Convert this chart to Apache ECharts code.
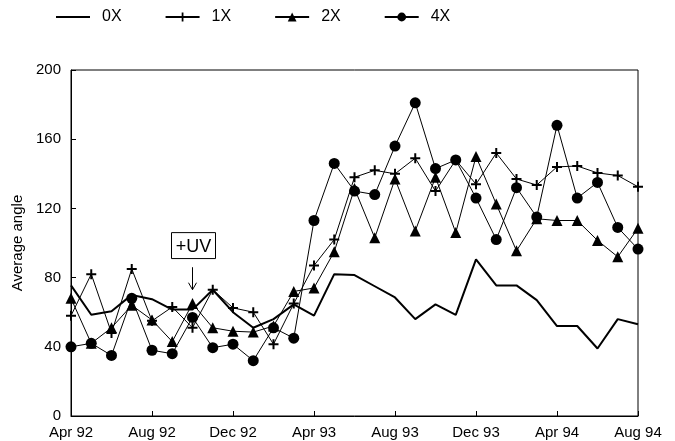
<!DOCTYPE html>
<html>
<head>
<meta charset="utf-8">
<script src="https://cdn.jsdelivr.net/npm/echarts@6/dist/echarts.min.js"></script>
<style>
html,body{margin:0;padding:0;background:#fff;}
#chart{width:675px;height:441px;}
</style>
</head>
<body>
<div id="chart"></div>
<script>
const months = ['Apr 92','May 92','Jun 92','Jul 92','Aug 92','Sep 92','Oct 92','Nov 92','Dec 92',
  'Jan 93','Feb 93','Mar 93','Apr 93','May 93','Jun 93','Jul 93','Aug 93','Sep 93','Oct 93','Nov 93','Dec 93',
  'Jan 94','Feb 94','Mar 94','Apr 94','May 94','Jun 94','Jul 94','Aug 94'];
const seriesNames = ['0X','1X','2X','4X'];
const values0X = [75.5,58.5,60.5,70,67.5,61.5,61.5,73,60,51,56,64.5,58,82,81.5,75,68.5,56,64.5,58.5,90.5,75.5,75.5,67,52,52,39,56,53];
const values1X = [58,82,48,85,55,63,51,73,62.5,60,41.5,65,87,102,138,142,140,149,130,148,134,152,137,133.5,144,144.5,140.5,139,132.5];
const values2X = [68,42,51,64,55.5,43,65,51,49,48.5,52,72,74,95,131.5,103,137,107,138,106,150,122.5,95.5,114,113,113,101.5,92,108.5];
const values4X = [40,42,35,68,38,36,57,39.5,41.5,32,51,45,113,146,130,128,156,181,143,148,126,102,132,115,168,126,135,109,96.5];
const yTicks = [0,40,80,120,160,200];
const annotationText = '+UV';
const annotationMonth = 'Oct 92';

(function () {
const chart = echarts.init(document.getElementById('chart'), null, {renderer:'canvas'});
const font = 'Liberation Sans, Arial, Helvetica, sans-serif';
const plusPath = 'path://M4,0 H6 V4 H10 V6 H6 V10 H4 V6 H0 V4 H4 Z';
const plainLineIcon = 'path://M0,0 H34 V2 H0 Z';

const option = {
  animation: false,
  backgroundColor: '#fff',
  textStyle: {fontFamily: font, color: '#000'},
  legend: {
    left: 51, top: 4,
    itemWidth: 34, itemHeight: 11, itemGap: 43,
    textStyle: {fontFamily: font, fontSize: 16, color: '#000', padding: [0,0,0,7]},
    data: [{name: seriesNames[0], icon: plainLineIcon}, seriesNames[1], seriesNames[2], seriesNames[3]]
  },
  grid: {left: 71, right: 37, top: 70, bottom: 25, show: true, borderColor: '#000', borderWidth: 1},
  xAxis: {
    type: 'category', data: months, boundaryGap: false,
    axisLine: {lineStyle: {color: '#000', width: 1}},
    axisTick: {inside: true, interval: 3, length: 5, lineStyle: {color: '#000'}},
    axisLabel: {interval: 3, color: '#000', fontSize: 15, fontFamily: font, margin: 9}
  },
  yAxis: {
    type: 'value', min: yTicks[0], max: yTicks[yTicks.length-1], interval: 40,
    name: 'Average angle', nameLocation: 'middle', nameGap: 44,
    nameTextStyle: {fontSize: 15, fontFamily: font, color: '#000'},
    axisLine: {show: true, lineStyle: {color: '#000', width: 1}},
    axisTick: {show: true, inside: true, length: 5, lineStyle: {color: '#000'}},
    axisLabel: {color: '#000', fontSize: 15, fontFamily: font, margin: 10},
    splitLine: {show: false}
  },
  series: [
    {name: '0X', type: 'line', data: values0X, symbol: 'none', lineStyle: {color: '#000', width: 2}, itemStyle: {color: '#000'}, z: 2},
    {name: '1X', type: 'line', data: values1X, symbol: plusPath, symbolSize: 10, showSymbol: true,
      lineStyle: {color: '#000', width: 1}, itemStyle: {color: '#000'}, z: 3},
    {name: '2X', type: 'line', data: values2X, symbol: 'triangle', symbolSize: 11, showSymbol: true,
      lineStyle: {color: '#000', width: 1}, itemStyle: {color: '#000'}, z: 3},
    {name: '4X', type: 'line', data: values4X, symbol: 'circle', symbolSize: 11, showSymbol: true,
      lineStyle: {color: '#000', width: 1}, itemStyle: {color: '#000'}, z: 3}
  ]
};
chart.setOption(option);

const boxTop = chart.convertToPixel({gridIndex: 0}, [annotationMonth, 106]);
const boxBottom = chart.convertToPixel({gridIndex: 0}, [annotationMonth, 91]);
const arrowStart = chart.convertToPixel({gridIndex: 0}, [annotationMonth, 86]);
const arrowEnd = chart.convertToPixel({gridIndex: 0}, [annotationMonth, 73]);
const cx = boxTop[0];
chart.setOption({
  graphic: [
    {type: 'rect', shape: {x: cx - 21, y: boxTop[1], width: 44, height: boxBottom[1] - boxTop[1]},
      style: {fill: '#fff', stroke: '#000', lineWidth: 1}},
    {type: 'text', x: cx + 1, y: (boxTop[1] + boxBottom[1]) / 2 + 1,
      style: {text: annotationText, font: '18px ' + font, fill: '#000', align: 'center', verticalAlign: 'middle'}},
    {type: 'line', shape: {x1: cx, y1: arrowStart[1], x2: cx, y2: arrowEnd[1]}, style: {stroke: '#000', lineWidth: 1}},
    {type: 'polyline', shape: {points: [[cx - 4, arrowEnd[1] - 7], [cx, arrowEnd[1]], [cx + 4, arrowEnd[1] - 7]]},
      style: {stroke: '#000', lineWidth: 1, fill: null}}
  ]
});
})();
</script>
</body>
</html>
